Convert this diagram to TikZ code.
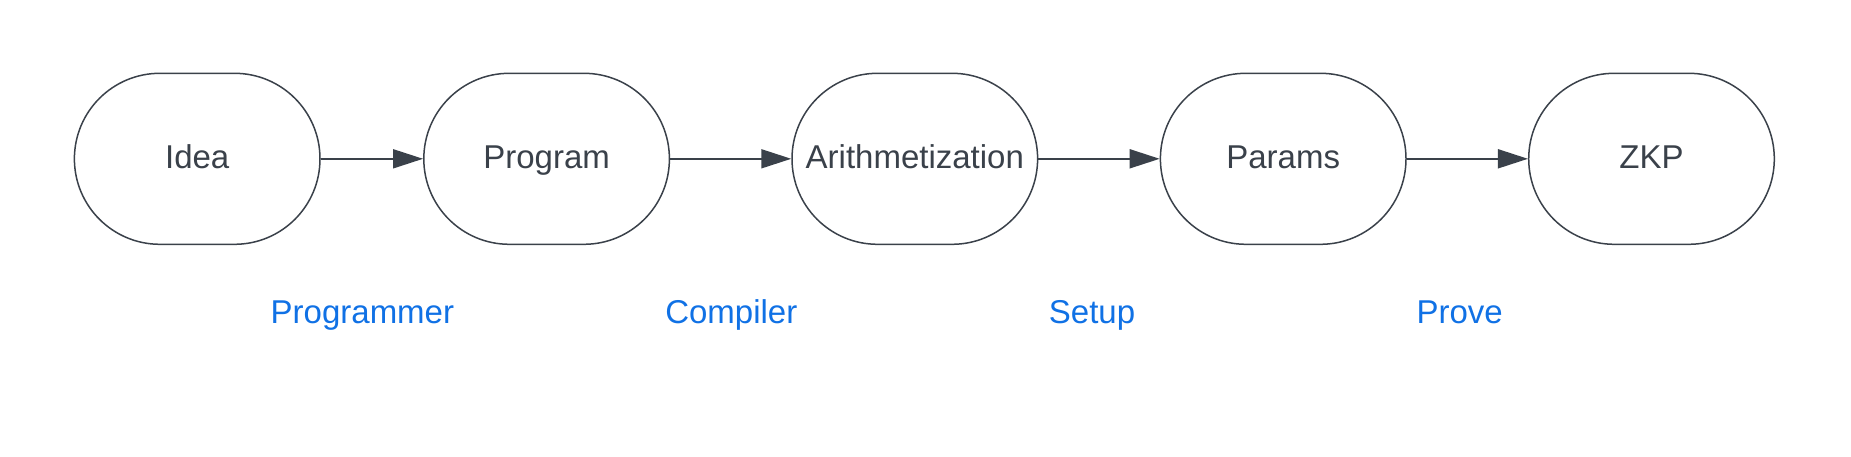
\documentclass[tikz,border=0pt]{standalone}
\usepackage{fontspec}
\setmainfont{Liberation Sans}
\usetikzlibrary{arrows.meta}
\definecolor{ink}{HTML}{3A414A}
\definecolor{lbl}{HTML}{1071E5}
\begin{document}
\begin{tikzpicture}[x=1pt,y=-1pt,
  txt/.style={font=\fontsize{33}{38}\selectfont, text height=23.6pt, text depth=4.8pt},
  stage/.style={txt, draw=ink, line width=1.5pt, rounded corners=85.5pt, minimum width=245.6pt, minimum height=171pt, inner sep=0pt, text=ink},
  lab/.style={txt, text=lbl, inner sep=0pt},
  flow/.style={draw=ink, line width=1.8pt, -{Triangle[length=30pt,width=19pt]}}]
\useasboundingbox (0,0) rectangle (1851,456);
\node[stage] (idea) at (197.2,158.8) {Idea};
\node[stage] (prog) at (546.6,158.8) {Program};
\node[stage] (arith) at (914.8,158.8) {Arithmetization};
\node[stage] (params) at (1283.2,158.8) {Params};
\node[stage] (zkp) at (1651.5,158.8) {ZKP};
\draw[flow] (idea.east) -- (prog.west);
\draw[flow] (prog.east) -- (arith.west);
\draw[flow] (arith.east) -- (params.west);
\draw[flow] (params.east) -- (zkp.west);
\node[lab] (l1) at (362.4,313.7) {Programmer};
\node[lab] (l2) at (731.3,313.7) {Compiler};
\node[lab] (l3) at (1092,313.7) {Setup};
\node[lab] (l4) at (1459.6,313.7) {Prove};
\end{tikzpicture}
\end{document}
